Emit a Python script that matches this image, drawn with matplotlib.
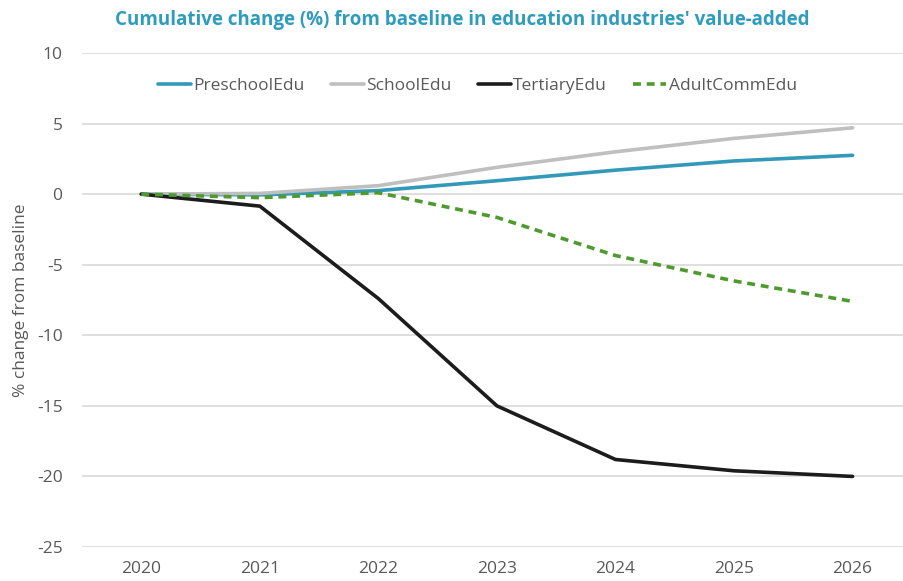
import matplotlib.pyplot as plt

plt.rcParams['font.family'] = ['Open Sans', 'DejaVu Sans']
plt.rcParams['axes.unicode_minus'] = False

years = [2020, 2021, 2022, 2023, 2024, 2025, 2026]
preschool = [0.0, -0.05, 0.25, 0.95, 1.7, 2.35, 2.75]
school = [0.0, 0.05, 0.6, 1.9, 3.0, 3.95, 4.7]
tertiary = [0.0, -0.85, -7.4, -15.0, -18.8, -19.6, -20.0]
adult_comm = [0.0, -0.25, 0.1, -1.65, -4.35, -6.15, -7.6]

yticks = [10, 5, 0, -5, -10, -15, -20, -25]

text_grey = '#595959'
grid_grey = '#d9d9d9'

fig = plt.figure(figsize=(9.04, 5.81), dpi=100)
ax = fig.add_axes([0.0907, 0.0585, 0.918, 0.8503])

x = list(range(len(years)))
ax.plot(x, preschool, color='#3399b8', lw=2.6, label='PreschoolEdu', solid_capstyle='round')
ax.plot(x, school, color='#bfbfbf', lw=2.6, label='SchoolEdu', solid_capstyle='round')
ax.plot(x, tertiary, color='#1c1c1c', lw=2.6, label='TertiaryEdu', solid_capstyle='round')
ax.plot(x, adult_comm, color='#4f9a2f', lw=2.6, ls=(0, (2.2, 1.6)), label='AdultCommEdu')

ax.set_xlim(-0.5, len(years) - 0.5)
ax.set_ylim(-25, 10)
ax.set_xticks(x, [str(y) for y in years])
ax.set_yticks(yticks)

ax.grid(axis='y', color=grid_grey, lw=1.2)
ax.set_axisbelow(True)
for side in ['top', 'right', 'bottom', 'left']:
    ax.spines[side].set_visible(False)
ax.tick_params(axis='both', length=0, colors=text_grey, labelsize=12.5)
ax.tick_params(axis='y', pad=14)
ax.tick_params(axis='x', pad=10)

ax.set_ylabel('% change from baseline', color=text_grey, fontsize=12.5)
ax.yaxis.set_label_coords(-0.064, 0.5)

fig.text(0.511, 0.966, "Cumulative change (%) from baseline in education industries' value-added",
         ha='center', va='center', color='#2e9cbf', fontsize=13.5, fontweight='bold')

fig.legend(loc='center', bbox_to_anchor=(0.528, 0.852), ncol=4, frameon=False,
           fontsize=12.5, labelcolor=text_grey, handlelength=1.9, handletextpad=0.15,
           columnspacing=1.5)

fig.savefig('out.png', dpi=100, facecolor='white')
